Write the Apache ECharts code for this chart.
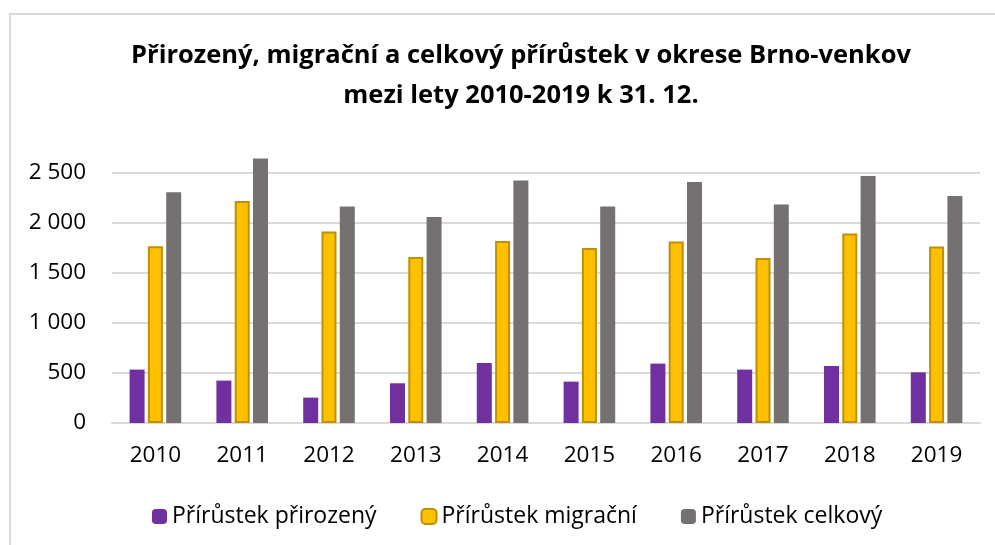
<!DOCTYPE html>
<html>
<head>
<meta charset="utf-8">
<script src="https://cdn.jsdelivr.net/npm/echarts@6/dist/echarts.min.js"></script>
<style>
  html, body { margin: 0; padding: 0; background: #fff; }
  .frame {
    position: absolute;
    left: 9px;
    top: 13px;
    width: 1100px;
    height: 600px;
    border: 2px solid #d9d9d9;
  }
  .chart-container {
    position: absolute;
    left: 0;
    top: 0;
    width: 995px;
    height: 545px;
  }
</style>
</head>
<body>
<div class="frame"></div>
<div id="chart" class="chart-container"></div>
<script>
const years = ['2010', '2011', '2012', '2013', '2014', '2015', '2016', '2017', '2018', '2019']
const prirozeny = [534, 424, 254, 397, 600, 414, 594, 534, 570, 507]
const migracni = [1767, 2220, 1914, 1660, 1820, 1750, 1814, 1650, 1894, 1764]
const celkovy = [2307, 2644, 2164, 2060, 2424, 2164, 2410, 2184, 2470, 2270]
const seriesNames = ['Přírůstek přirozený', 'Přírůstek migrační', 'Přírůstek celkový']
const titleLines = [
  'Přirozený, migrační a celkový přírůstek v okrese Brno-venkov',
  'mezi lety 2010-2019 k 31. 12.'
]

const font = '"Open Sans", "Noto Sans", sans-serif'
const textColor = '#000'

const formatThousands = v => String(v).replace(/\B(?=(\d{3})+(?!\d))/g, ' ')

const chart = echarts.init(document.getElementById('chart'))

const option = {
  animation: false,
  textStyle: { fontFamily: font },
  graphic: [
    {
      type: 'text',
      x: 521,
      y: 56,
      style: {
        text: titleLines[0],
        align: 'center',
        verticalAlign: 'middle',
        font: 'bold 25.5px ' + font,
        fill: textColor
      }
    },
    {
      type: 'text',
      x: 521,
      y: 96,
      style: {
        text: titleLines[1],
        align: 'center',
        verticalAlign: 'middle',
        font: 'bold 25.5px ' + font,
        fill: textColor
      }
    }
  ],
  grid: {
    left: 112,
    right: 15,
    top: 173,
    bottom: 122
  },
  legend: {
    left: 147,
    top: 500,
    itemWidth: 15,
    itemHeight: 15,
    itemGap: 44,
    textStyle: { fontSize: 23, color: textColor, fontFamily: font },
    data: seriesNames
  },
  xAxis: {
    type: 'category',
    data: years,
    axisTick: { show: false },
    axisLine: { lineStyle: { color: '#d9d9d9', width: 2 } },
    axisLabel: { fontSize: 22.5, color: textColor, margin: 21 }
  },
  yAxis: {
    type: 'value',
    min: 0,
    max: 2500,
    interval: 500,
    axisLine: { show: false },
    axisTick: { show: false },
    axisLabel: {
      fontSize: 22.5,
      color: textColor,
      margin: 26,
      formatter: formatThousands
    },
    splitLine: { lineStyle: { color: '#d9d9d9', width: 2 } }
  },
  series: [
    {
      name: seriesNames[0],
      type: 'bar',
      clip: false,
      data: prirozeny,
      barWidth: 15,
      barGap: '22%',
      itemStyle: { color: '#7030a0' }
    },
    {
      name: seriesNames[1],
      type: 'bar',
      clip: false,
      data: migracni,
      barWidth: 15,
      barGap: '22%',
      itemStyle: { color: '#ffc000', borderColor: '#bf9000', borderWidth: 2 }
    },
    {
      name: seriesNames[2],
      type: 'bar',
      clip: false,
      data: celkovy,
      barWidth: 15,
      barGap: '22%',
      itemStyle: { color: '#767171' }
    }
  ]
}

chart.setOption(option)
</script>
</body>
</html>
